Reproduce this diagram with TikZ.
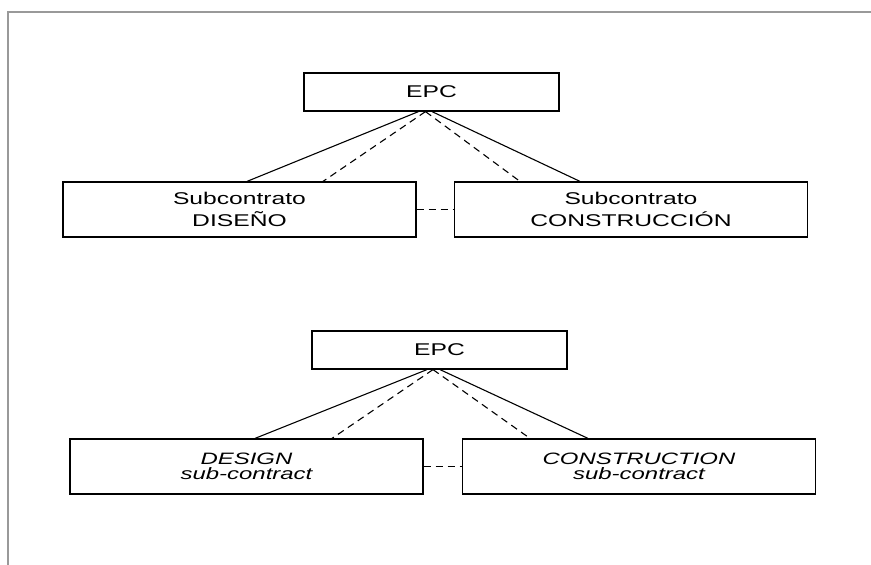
\documentclass[tikz,border=0pt]{standalone}
\usepackage{fontspec}
\setmainfont{Liberation Sans}[FakeStretch=1.45]
\usetikzlibrary{positioning,calc}
\tikzset{%
  link/.style={line width=1.1pt},
  dlink/.style={line width=1.1pt,dash pattern=on 7pt off 5pt},
  epcbox/.style={rectangle,draw,line width=1.2pt,minimum width=255pt,minimum height=38pt,inner sep=0pt,align=center,font=\fontsize{17}{20}\selectfont},
  subbox/.style={rectangle,draw,line width=1.2pt,minimum width=353pt,minimum height=55pt,inner sep=0pt,align=center,font=\fontsize{17}{22}\selectfont},
  engbox/.style={subbox,font=\fontsize{16.5}{14.5}\selectfont\itshape}
}
\begin{document}
\begin{tikzpicture}[x=1pt,y=-1pt]

 \useasboundingbox (0,0) rectangle (871,565);
 \draw[line width=1.5pt,black!40] (8,565) -- (8,12) -- (871,12);

 % spanish version
 \node[epcbox] (epc1) at (431.5,92) {EPC};
 \node[subbox] (dis) at (239.5,209.5) {Subcontrato\\DISEÑO};
 \node[subbox] (con) at (631,209.5) {Subcontrato\\CONSTRUCCIÓN};

 \draw[link] ([xshift=-13pt]epc1.south) to ([xshift=7.5pt]dis.north);
 \draw[dlink] ([xshift=-6pt]epc1.south) to ([xshift=83.5pt]dis.north);
 \draw[dlink] ([xshift=-6pt]epc1.south) to ([xshift=-111pt]con.north);
 \draw[link] ([xshift=0.5pt]epc1.south) to ([xshift=-51pt]con.north);
 \draw[dlink] (dis.east) to (con.west);

 % english version
 \node[epcbox] (epc2) at (439.5,350) {EPC};
 \node[engbox] (des) at (246.5,466.5) {DESIGN\\sub-contract};
 \node[engbox] (cons) at (639,466.5) {CONSTRUCTION\\sub-contract};

 \draw[link] ([xshift=-12.5pt]epc2.south) to ([xshift=8.5pt]des.north);
 \draw[dlink] ([xshift=-6.5pt]epc2.south) to ([xshift=85.5pt]des.north);
 \draw[dlink] ([xshift=-6.5pt]epc2.south) to ([xshift=-109pt]cons.north);
 \draw[link] ([xshift=0.5pt]epc2.south) to ([xshift=-51pt]cons.north);
 \draw[dlink] (des.east) to (cons.west);

\end{tikzpicture}
\end{document}
